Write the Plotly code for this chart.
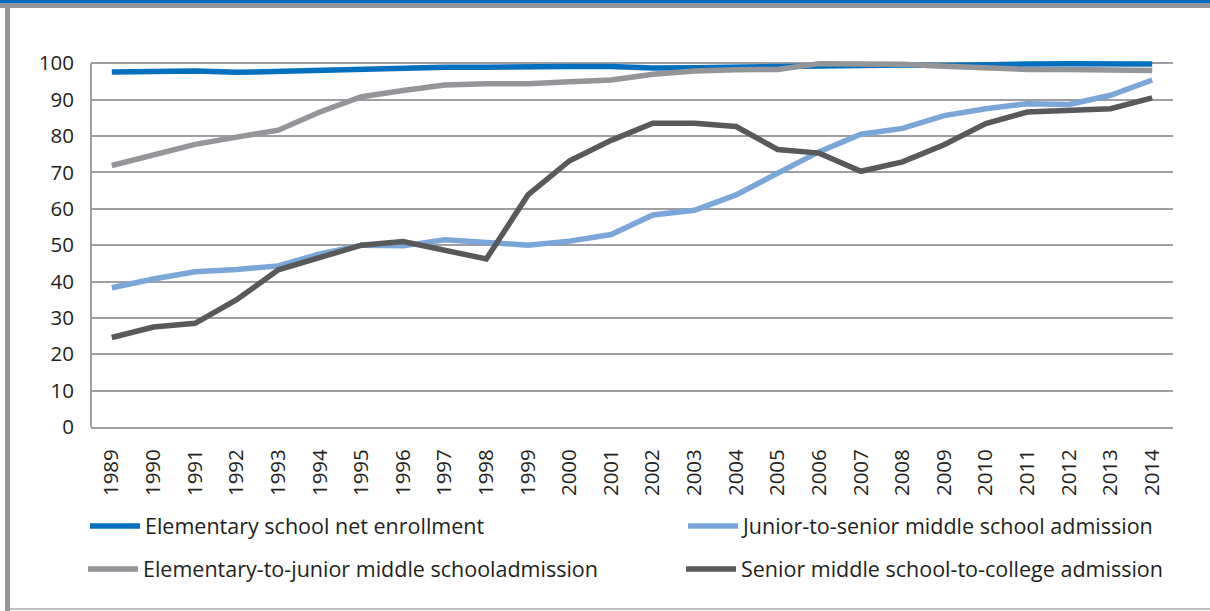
import plotly.graph_objects as go

years = [str(y) for y in range(1989, 2015)]
elem_net = [97.6, 97.9, 97.9, 97.5, 97.8, 98.3, 98.4, 98.8, 98.9, 98.9, 99.1, 99.1, 99.1, 98.7, 98.8, 99.0, 99.2, 99.3, 99.5, 99.5, 99.4, 99.7, 99.8, 99.85, 99.7, 99.8]
jun_sen = [38.3, 40.7, 42.7, 43.3, 44.3, 47.6, 50.0, 49.8, 51.5, 50.7, 50.0, 51.1, 52.9, 58.3, 59.6, 63.8, 69.7, 75.7, 80.5, 82.1, 85.6, 87.5, 88.9, 88.7, 91.2, 95.4]
elem_jun = [71.9, 74.7, 77.7, 79.7, 81.6, 86.6, 90.8, 92.5, 94.0, 94.4, 94.4, 94.9, 95.4, 97.0, 97.9, 98.2, 98.3, 99.9, 99.8, 99.7, 99.2, 98.7, 98.3, 98.3, 98.3, 98.0]
sen_col = [24.6, 27.5, 28.5, 35.0, 43.2, 46.7, 50.0, 51.0, 48.6, 46.2, 63.8, 73.2, 78.8, 83.5, 83.5, 82.6, 76.3, 75.3, 70.3, 72.9, 77.6, 83.4, 86.6, 87.0, 87.5, 90.5]

names = ["Elementary school net enrollment",
         "Junior-to-senior middle school admission",
         "Elementary-to-junior middle schooladmission",
         "Senior middle school-to-college admission"]
colors = ["#0070BF", "#7BA6DA", "#939598", "#58595B"]
series = [elem_net, jun_sen, elem_jun, sen_col]
legends = ["legend", "legend2", "legend3", "legend4"]

W, H = 1210, 611
L, R, T, B = 91, 1173, 56, 427
YMAX = 102.0
FONT = "Open Sans"
TXT = "#231F20"
GRID = "#9D9FA2"

fig = go.Figure()
for n, c, s, lg in zip(names, colors, series, legends):
    fig.add_trace(go.Scatter(x=years, y=s, name=n, mode="lines",
                             line=dict(color=c, width=5.5), legend=lg))

def px(x):
    return (x - L) / (R - L)

def py(y):
    return (B - y) / (B - T)

shapes = [
    dict(type="rect", xref="paper", yref="paper", x0=px(0), x1=px(W), y0=py(0), y1=py(3),
         fillcolor="#0070BF", line_width=0),
    dict(type="rect", xref="paper", yref="paper", x0=px(0), x1=px(W), y0=py(3), y1=py(8),
         fillcolor="#939598", line_width=0),
    dict(type="rect", xref="paper", yref="paper", x0=px(5), x1=px(10), y0=py(8), y1=py(H),
         fillcolor="#939598", line_width=0),
    dict(type="line", xref="paper", yref="paper", x0=px(10), x1=px(W), y0=py(609), y1=py(609),
         line=dict(color="#A7A9AC", width=1.5)),
    dict(type="line", xref="paper", yref="y", x0=0, x1=0, y0=0, y1=100,
         line=dict(color=GRID, width=2)),
]

def leg(xpix, ypix):
    return dict(orientation="h", xref="container", yref="container",
                x=xpix / W, y=1 - ypix / H, xanchor="left", yanchor="middle",
                itemwidth=50, font=dict(size=21.5, color=TXT, family=FONT),
                bgcolor="rgba(0,0,0,0)")

fig.update_layout(
    width=W, height=H,
    margin=dict(l=L, r=W - R, t=T, b=H - B),
    paper_bgcolor="white", plot_bgcolor="white",
    font=dict(family=FONT, color=TXT, size=20),
    showlegend=True,
    shapes=shapes,
    xaxis=dict(type="category", range=[-0.5, 25.5], showgrid=False, showline=True,
               linecolor=GRID, linewidth=2, ticks="", tickangle=-90, automargin=False,
               tickfont=dict(size=20.5, color=TXT, family=FONT), ticklabelstandoff=12),
    yaxis=dict(range=[0, YMAX], tick0=0, dtick=10, showgrid=True, gridcolor=GRID,
               gridwidth=2, zeroline=False, showline=False, ticks="", automargin=False,
               tickfont=dict(size=20.5, color=TXT, family=FONT), ticklabelstandoff=16),
    legend=leg(85, 526),
    legend2=leg(683, 526),
    legend3=leg(83, 569),
    legend4=leg(681, 569),
)

fig.write_html("out.html", config={"displayModeBar": False},
               post_script="document.body.style.margin='0';document.body.style.padding='0';")
